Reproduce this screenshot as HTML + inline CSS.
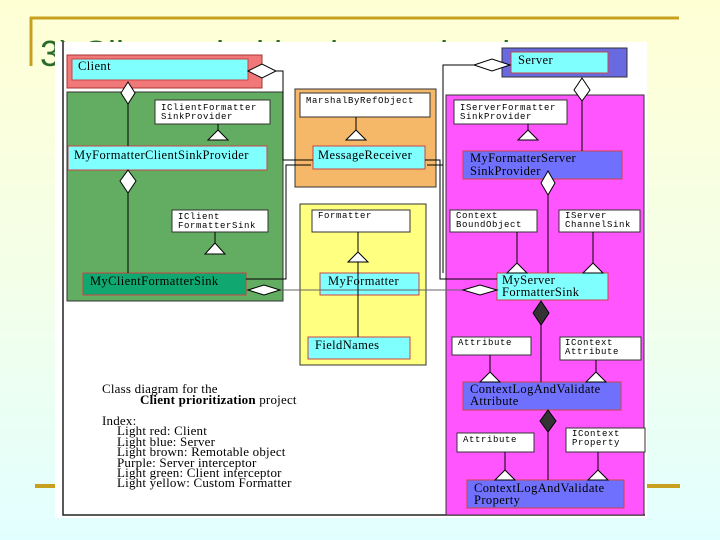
<!DOCTYPE html>
<html><head><meta charset="utf-8"><style>
body{margin:0;width:720px;height:540px;overflow:hidden;background:linear-gradient(#ffffd4 0%,#f4ffe8 50%,#e2ffff 100%);font-family:"Liberation Serif",serif}
.m{font-family:"Liberation Mono",monospace;font-size:9px;letter-spacing:0.6px}
.b{font-size:12.5px;letter-spacing:0.4px}
</style></head><body>
<svg width="720" height="540" xmlns="http://www.w3.org/2000/svg" style="position:absolute;left:0;top:0">
<line x1="30" y1="18" x2="679" y2="18" stroke="#c8a020" stroke-width="3"/>
<line x1="31" y1="17" x2="31" y2="66" stroke="#c8a020" stroke-width="3"/>
<line x1="35" y1="486" x2="680" y2="486" stroke="#c8a020" stroke-width="4"/>
<text x="40" y="66" font-family="Liberation Sans,sans-serif" font-size="36" fill="#2a6a2a">3) Client prioritization and order</text>
<rect x="55" y="42" width="592" height="476" fill="#fff"/>
<path d="M63 42 V515 H645" fill="none" stroke="#222" stroke-width="1.5"/>
<g font-family="Liberation Serif,serif" font-size="11" fill="#000">
<rect x="67" y="55" width="195" height="33" fill="#f07878" stroke="#a33"/>
<rect x="72" y="59" width="176" height="21" fill="#80ffff" stroke="#c44"/>
<text x="78" y="70" class="b">Client</text>
<rect x="67" y="92" width="216" height="209" fill="#62ad62" stroke="#333"/>
<rect x="155" y="100" width="115" height="24" fill="#fff" stroke="#333"/>
<text x="161" y="110" class="m">IClientFormatter</text>
<text x="161" y="119" class="m">SinkProvider</text>
<rect x="68" y="146" width="199" height="24" fill="#80ffff" stroke="#c44"/>
<text x="74" y="159" class="b">MyFormatterClientSinkProvider</text>
<rect x="172" y="210" width="96" height="22" fill="#fff" stroke="#333"/>
<text x="178" y="219" class="m">IClient</text>
<text x="178" y="228" class="m">FormatterSink</text>
<rect x="83" y="273" width="163" height="22" fill="#10a870" stroke="#c44"/>
<text x="90" y="285" class="b">MyClientFormatterSink</text>
<rect x="295" y="89" width="141" height="98" fill="#f5b868" stroke="#333"/>
<rect x="300" y="93" width="130" height="24" fill="#fff" stroke="#333"/>
<text x="306" y="103" class="m">MarshalByRefObject</text>
<rect x="313" y="146" width="112" height="23" fill="#80ffff" stroke="#c44"/>
<text x="318" y="159" class="b">MessageReceiver</text>
<rect x="300" y="204" width="126" height="161" fill="#ffff80" stroke="#333"/>
<rect x="312" y="210" width="98" height="22" fill="#fff" stroke="#333"/>
<text x="318" y="218" class="m">Formatter</text>
<rect x="320" y="273" width="99" height="22" fill="#80ffff" stroke="#c44"/>
<text x="328" y="285" class="b">MyFormatter</text>
<rect x="308" y="337" width="102" height="22" fill="#80ffff" stroke="#c44"/>
<text x="315" y="349" class="b">FieldNames</text>
<rect x="502" y="48" width="125" height="29" fill="#6a6ae0" stroke="#333"/>
<rect x="511" y="52" width="97" height="21" fill="#80ffff" stroke="#c44"/>
<text x="518" y="64" class="b">Server</text>
<rect x="446" y="95" width="198" height="420" fill="#ff55ff" stroke="#333"/>
<rect x="454" y="100" width="113" height="24" fill="#fff" stroke="#333"/>
<text x="460" y="110" class="m">IServerFormatter</text>
<text x="460" y="119" class="m">SinkProvider</text>
<rect x="463" y="151" width="159" height="28" fill="#7070ff" stroke="#c44"/>
<text x="470" y="162" class="b">MyFormatterServer</text>
<text x="470" y="175" class="b">SinkProvider</text>
<rect x="450" y="210" width="87" height="22" fill="#fff" stroke="#333"/>
<text x="456" y="218" class="m">Context</text>
<text x="456" y="227" class="m">BoundObject</text>
<rect x="559" y="210" width="81" height="22" fill="#fff" stroke="#333"/>
<text x="565" y="218" class="m">IServer</text>
<text x="565" y="227" class="m">ChannelSink</text>
<rect x="497" y="273" width="111" height="27" fill="#80ffff" stroke="#c44"/>
<text x="502" y="284" class="b">MyServer</text>
<text x="502" y="296" class="b">FormatterSink</text>
<rect x="452" y="337" width="79" height="18" fill="#fff" stroke="#333"/>
<text x="458" y="345" class="m">Attribute</text>
<rect x="560" y="337" width="81" height="23" fill="#fff" stroke="#333"/>
<text x="565" y="345" class="m">IContext</text>
<text x="565" y="354" class="m">Attribute</text>
<rect x="463" y="382" width="158" height="28" fill="#7070ff" stroke="#c44"/>
<text x="470" y="393" class="b">ContextLogAndValidate</text>
<text x="470" y="405" class="b">Attribute</text>
<rect x="457" y="433" width="77" height="19" fill="#fff" stroke="#333"/>
<text x="463" y="442" class="m">Attribute</text>
<rect x="566" y="428" width="79" height="24" fill="#fff" stroke="#333"/>
<text x="572" y="436" class="m">IContext</text>
<text x="572" y="445" class="m">Property</text>
<rect x="467" y="480" width="157" height="28" fill="#7070ff" stroke="#c44"/>
<text x="474" y="492" class="b">ContextLogAndValidate</text>
<text x="474" y="504" class="b">Property</text>
<g font-size="13" letter-spacing="0.2">
<text x="102" y="393">Class diagram for the</text>
<text x="140" y="404"><tspan font-weight="bold">Client prioritization</tspan> project</text>
<text x="102" y="425">Index:</text>
<text x="117" y="435">Light red: Client</text>
<text x="117" y="446">Light blue: Server</text>
<text x="117" y="456">Light brown: Remotable object</text>
<text x="117" y="467">Purple: Server interceptor</text>
<text x="117" y="477">Light green: Client interceptor</text>
<text x="117" y="487">Light yellow: Custom Formatter</text>
</g>
</g>
<g stroke="#000" stroke-width="1" fill="none">
<polyline points="276,71 283,71 283,160 313,160"/>
<line x1="128" y1="96" x2="128" y2="146"/>
<line x1="128" y1="193" x2="128" y2="273"/>
<line x1="218" y1="140" x2="218" y2="124"/>
<line x1="215" y1="254" x2="215" y2="232"/>
<polyline points="246,279 286,279 286,165 311,165"/>
<line x1="280" y1="290" x2="497" y2="290" stroke="#666"/>
<line x1="356" y1="117" x2="356" y2="140"/>
<line x1="358" y1="232" x2="358" y2="337"/>
<polyline points="474,65 443,65 443,273"/>
<polyline points="497,279 440,279 440,160 425,160"/>
<polyline points="443,165 427,165"/>
<line x1="582" y1="101" x2="582" y2="151"/>
<line x1="528" y1="131" x2="528" y2="124"/>
<line x1="548" y1="195" x2="548" y2="273"/>
<line x1="517" y1="232" x2="517" y2="273"/>
<line x1="593" y1="232" x2="593" y2="273"/>
<line x1="541" y1="325" x2="541" y2="382"/>
<line x1="490" y1="355" x2="490" y2="382"/>
<line x1="596" y1="360" x2="596" y2="382"/>
<line x1="548" y1="432" x2="548" y2="480"/>
<line x1="505" y1="452" x2="505" y2="480"/>
<line x1="598" y1="452" x2="598" y2="480"/>
</g>
<g stroke="#000" fill="#fff">
<polygon points="248,71 262,64 276,71 262,78"/>
<polygon points="128,82 135,93 128,104 121,93"/>
<polygon points="128,170 136,181 128,193 120,181"/>
<polygon points="248,290 264,285 280,290 264,295"/>
<polygon points="474,65 492,59 510,65 492,71"/>
<polygon points="582,78 590,90 582,101 574,90"/>
<polygon points="548,171 555,183 548,195 541,183"/>
<polygon points="463,290 480,285 497,290 480,295"/>
<polygon points="208,140 218,130 228,140"/>
<polygon points="205,254 215,243 225,254"/>
<polygon points="346,140 356,130 366,140"/>
<polygon points="348,262 358,252 368,262"/>
<polygon points="518,140 528,130 538,140"/>
<polygon points="507,273 517,263 527,273"/>
<polygon points="583,273 593,263 603,273"/>
<polygon points="480,382 490,372 500,382"/>
<polygon points="586,382 596,372 606,382"/>
<polygon points="495,480 505,470 515,480"/>
<polygon points="588,480 598,470 608,480"/>
</g>
<g fill="#333" stroke="#000">
<polygon points="541,301 549,313 541,325 533,313"/>
<polygon points="548,410 556,421 548,432 540,421"/>
</g>
</svg>
</body></html>
